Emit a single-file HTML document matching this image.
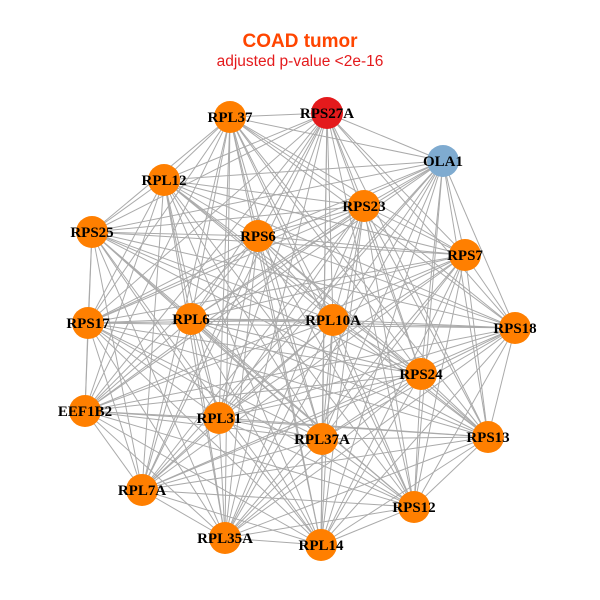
<!DOCTYPE html>
<html><head><meta charset="utf-8"><style>html,body{margin:0;padding:0;background:#fff}svg{display:block}</style></head>
<body>
<svg id="s" width="600" height="600" xmlns="http://www.w3.org/2000/svg">
<rect width="600" height="600" fill="#fff"/>
<text x="300" y="47" text-anchor="middle" font-family="Liberation Sans, sans-serif" font-weight="bold" font-size="19" fill="#ff4500">COAD tumor</text>
<text x="300" y="66" text-anchor="middle" font-family="Liberation Sans, sans-serif" font-size="15.5" fill="#e41a1c">adjusted p-value &lt;2e-16</text>
<g id="e" stroke="#aaaaaa" stroke-width="1"></g>
<g id="n"></g>
</svg>
<script>
var N=[["RPS27A",327,113,"#e41a1c"],["RPL37",230,117],["OLA1",443,161,"#7fabd0"],["RPL12",164,180],["RPS23",364,206],["RPS25",92,232],["RPS6",258,236],["RPS7",465,255],["RPS17",88,323],["RPL6",191,319],["RPL10A",333,320],["RPS18",515,328],["RPS24",421,374],["EEF1B2",85,411],["RPL31",219,418],["RPL37A",322,439],["RPS13",488,437],["RPL7A",142,490],["RPS12",414,507],["RPL35A",225,538],["RPL14",321,545]];
var ns="http://www.w3.org/2000/svg",e=document.getElementById("e"),g=document.getElementById("n");
for(var i=0;i<N.length;i++)for(var j=i+1;j<N.length;j++){var l=document.createElementNS(ns,"line");l.setAttribute("x1",N[i][1]);l.setAttribute("y1",N[i][2]);l.setAttribute("x2",N[j][1]);l.setAttribute("y2",N[j][2]);e.appendChild(l);}
N.forEach(function(d){var c=document.createElementNS(ns,"circle");c.setAttribute("cx",d[1]);c.setAttribute("cy",d[2]);c.setAttribute("r",16);c.setAttribute("fill",d[3]||"#ff7f00");g.appendChild(c);
var t=document.createElementNS(ns,"text");t.setAttribute("x",d[1]);t.setAttribute("y",d[2]+5);t.setAttribute("text-anchor","middle");t.setAttribute("font-family","Liberation Serif, serif");t.setAttribute("font-weight","bold");t.setAttribute("font-size","15");t.textContent=d[0];g.appendChild(t);});
</script>
</body></html>
